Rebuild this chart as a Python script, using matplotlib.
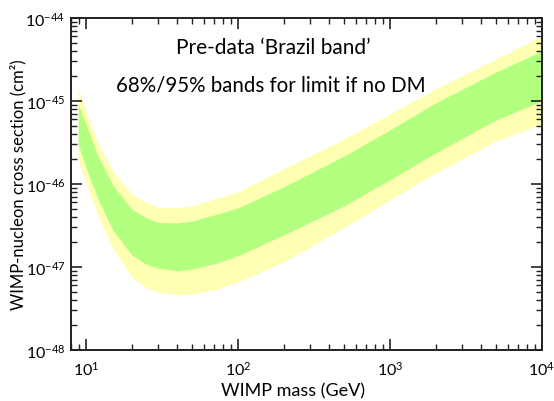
import matplotlib
matplotlib.use('Agg')
import matplotlib.pyplot as plt
from matplotlib.ticker import LogLocator, LogFormatterSciNotation, NullFormatter, FixedLocator

# WIMP masses (GeV)
mass = [8.9, 10, 12, 15, 20, 25, 30, 40, 50, 70, 100, 200, 500, 1000, 2000, 5000, 10000]

# 95% band edges (cm^2)
yellow_hi = [1.40e-45, 7.6e-46, 3.12e-46, 1.44e-46, 7.6e-47, 5.99e-47, 5.28e-47, 5.14e-47,
             5.43e-47, 6.59e-47, 8.0e-47, 1.52e-46, 3.48e-46, 6.97e-46, 1.40e-45, 3.21e-45, 6.07e-45]
yellow_lo = [2.0e-46, 1.03e-46, 4.11e-47, 1.69e-47, 7.58e-48, 5.59e-48, 5.0e-48, 4.6e-48,
             4.73e-48, 5.28e-48, 6.59e-48, 1.15e-47, 2.99e-47, 6.41e-47, 1.36e-46, 3.30e-46, 5.28e-46]

# 68% band edges (cm^2)
green_hi = [9.2e-46, 5.28e-46, 2.17e-46, 9.7e-47, 5.0e-47, 3.89e-47, 3.43e-47, 3.39e-47,
            3.58e-47, 4.24e-47, 5.14e-47, 9.2e-47, 2.17e-46, 4.48e-46, 9.46e-46, 2.23e-45, 4.0e-45]
green_lo = [2.95e-46, 1.60e-46, 6.59e-47, 2.79e-47, 1.40e-47, 1.07e-47, 9.7e-48, 8.95e-48,
            9.46e-48, 1.09e-47, 1.36e-47, 2.43e-47, 5.43e-47, 1.12e-46, 2.36e-46, 5.9e-46, 1.0e-45]

# Major tick values
x_ticks = [1e1, 1e2, 1e3, 1e4]
y_ticks = [1e-48, 1e-47, 1e-46, 1e-45, 1e-44]

# Fonts: humanist sans for labels, Arial-like for tick numbers
plt.rcParams['font.family'] = ['Lato', 'DejaVu Sans']
plt.rcParams['mathtext.fontset'] = 'custom'
plt.rcParams['mathtext.rm'] = 'Liberation Sans'
plt.rcParams['mathtext.it'] = 'Liberation Sans:italic'
plt.rcParams['mathtext.bf'] = 'Liberation Sans:bold'

fig = plt.figure(figsize=(5.54, 4.02), dpi=100)
ax = fig.add_axes([0.128, 0.127, 0.850, 0.826])

# Bands
ax.fill_between(mass, yellow_lo, yellow_hi, color='#ffffb3', linewidth=0)
ax.fill_between(mass, green_lo, green_hi, color='#b3ff80', linewidth=0)

ax.set_xscale('log')
ax.set_yscale('log')
ax.set_xlim(7.97, 1e4)
ax.set_ylim(1e-48, 1e-44)

# Ticks
ax.xaxis.set_major_locator(FixedLocator(x_ticks))
ax.yaxis.set_major_locator(FixedLocator(y_ticks))
ax.xaxis.set_minor_locator(LogLocator(base=10, subs=range(2, 10), numticks=20))
ax.yaxis.set_minor_locator(LogLocator(base=10, subs=range(2, 10), numticks=20))
ax.xaxis.set_major_formatter(LogFormatterSciNotation())
ax.yaxis.set_major_formatter(LogFormatterSciNotation())
ax.xaxis.set_minor_formatter(NullFormatter())
ax.yaxis.set_minor_formatter(NullFormatter())
ax.tick_params(which='both', direction='in', top=True, right=True, color='#222222')
ax.tick_params(which='major', length=8, width=1.2, labelsize=11.5, pad=7)
ax.tick_params(which='minor', length=4, width=1.0)
ax.tick_params(axis='y', which='major', pad=4)

for s in ax.spines.values():
    s.set_linewidth(1.4)
    s.set_color('#222222')

# Labels
ax.set_xlabel('WIMP mass (GeV)', fontsize=13)
ax.set_ylabel('WIMP-nucleon cross section (cm²)', fontsize=12)
ax.xaxis.set_label_coords(0.471, -0.096)
ax.yaxis.set_label_coords(-0.094, 0.5)

ax.text(0.43, 0.913, 'Pre-data \u2018Brazil band\u2019', transform=ax.transAxes,
        ha='center', va='center', fontsize=15)
ax.text(0.425, 0.798, '68%/95% bands for limit if no DM', transform=ax.transAxes,
        ha='center', va='center', fontsize=14.8)

plt.savefig('out.png', dpi=100)
plt.close()
